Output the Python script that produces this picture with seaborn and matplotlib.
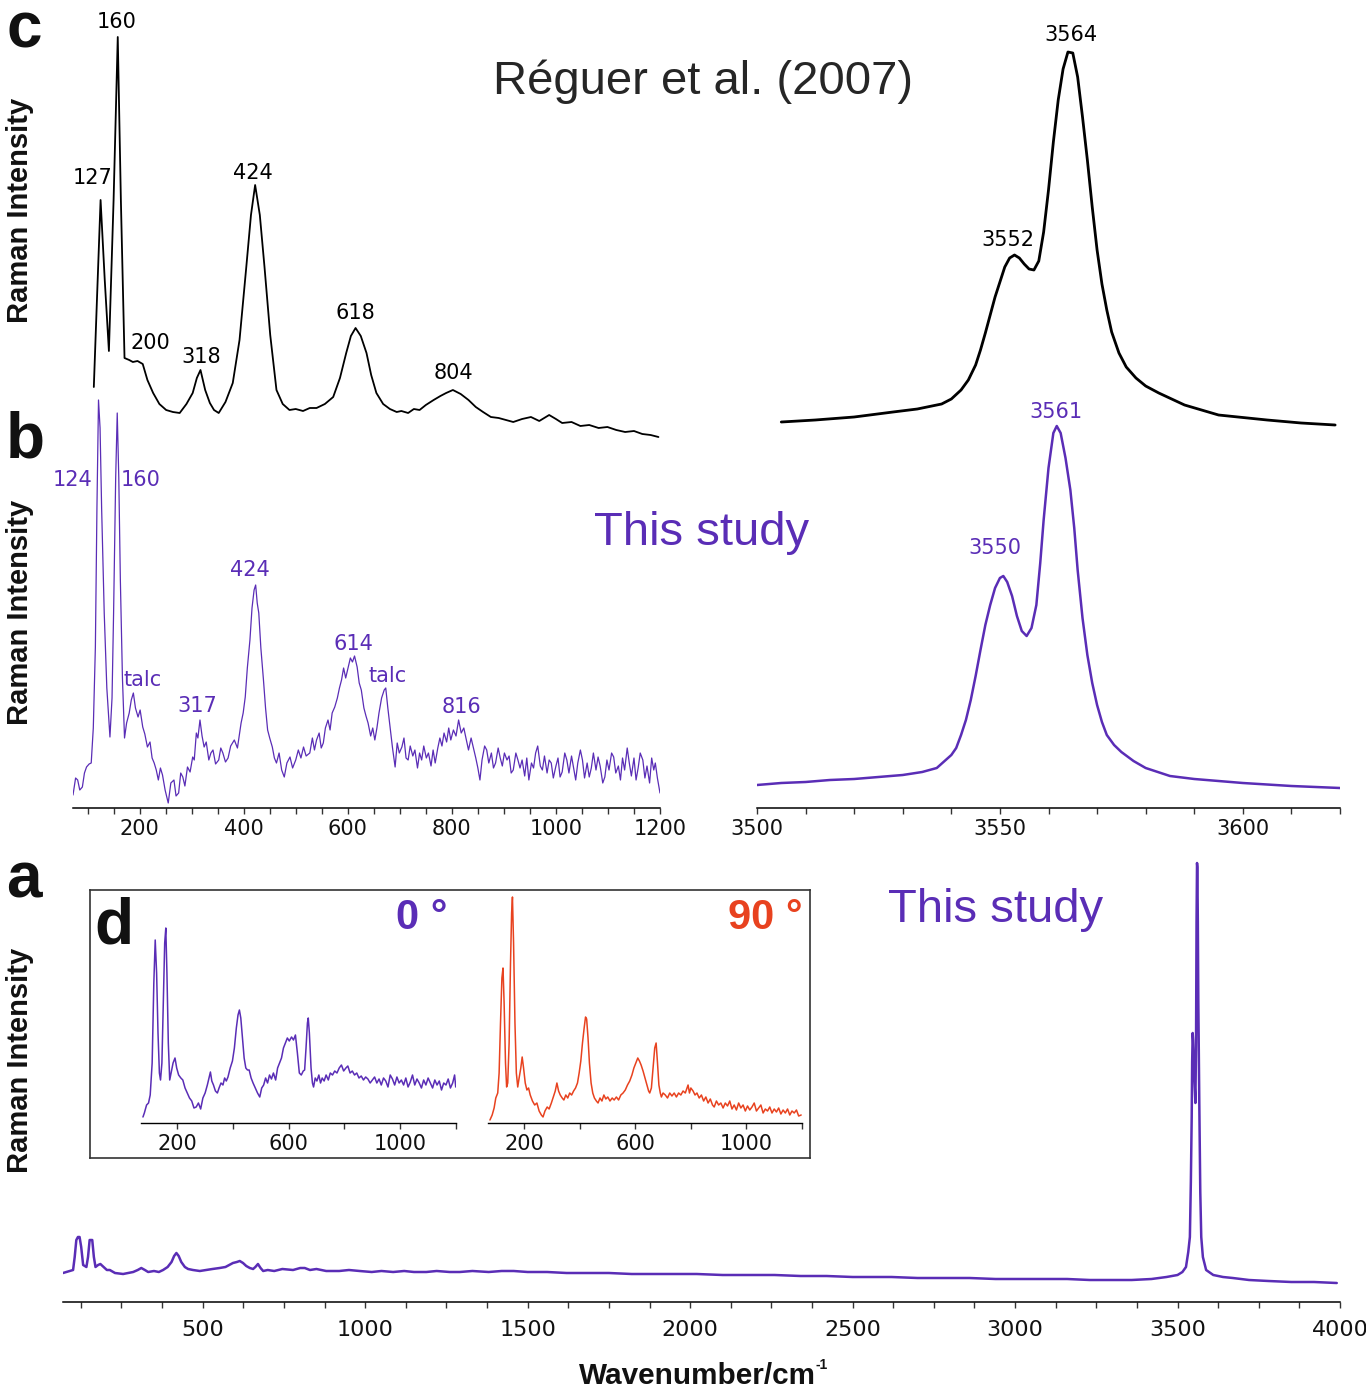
"""
Raman spectra of the OH / lattice region: Réguer et al. (2007) vs this study
"""
import numpy as np
import matplotlib
matplotlib.use("Agg")
import matplotlib.pyplot as plt
from matplotlib.ticker import MultipleLocator, FixedLocator
import seaborn as sns

sns.set_style("ticks")
plt.rcParams['font.family'] = ['DejaVu Sans']

PURPLE = '#5a2db6'
RED = '#e8421f'

# ---- panel c : Réguer et al. (2007), lattice region
c_low_wn = [112, 118, 125, 133, 141, 150, 158, 164, 171, 180, 187, 196, 206, 215, 226, 238, 251, 264, 277, 290,
            302, 310, 317, 326, 335, 343, 352, 365, 379, 392, 405, 414, 422, 431, 440, 451, 463, 475, 488, 500,
            514, 527, 540, 556, 572, 585, 597, 606, 615, 625, 636, 645, 655, 668, 681, 694, 703, 716, 727, 738,
            750, 765, 778, 789, 802, 817, 832, 846, 860, 875, 890, 904, 918, 935, 952, 968, 987, 1000, 1012, 1030,
            1047, 1064, 1082, 1099, 1116, 1133, 1150, 1166, 1182, 1197]
c_low_int = [50, 137, 237, 157, 86, 237, 400, 237, 79, 77, 75, 76, 73, 57, 44, 33, 27, 25, 24, 33,
             44, 59, 67, 47, 34, 27, 24, 35, 54, 97, 170, 222, 252, 222, 170, 102, 47, 33, 27, 28,
             26, 29, 29, 33, 40, 59, 84, 101, 109, 101, 84, 62, 44, 33, 28, 25, 26, 24, 28, 27,
             32, 37, 41, 44, 47, 43, 37, 30, 25, 20, 19, 17, 15, 18, 20, 16, 22, 18, 14, 15,
             11, 12, 9, 10, 7, 5, 6, 3, 2, 0]

# ---- panel c : OH stretching region
c_oh_wn = [3505, 3512, 3520, 3528, 3533, 3538, 3540, 3542, 3543.5, 3545, 3546, 3547, 3548, 3549, 3550,
           3551, 3552, 3553, 3554, 3555, 3556, 3557, 3558, 3559, 3560, 3561, 3562, 3563, 3564, 3565,
           3566, 3567, 3568, 3569, 3570, 3571, 3572, 3573, 3574.5, 3576, 3578, 3580, 3582.7, 3588, 3595,
           3605, 3612, 3619]
c_oh_int = [15, 17, 20, 25, 28, 33, 38, 47, 57, 72, 87, 104, 122, 140, 155,
            170, 179, 182, 179, 173, 168, 167, 176, 205, 247, 295, 337, 368, 385, 384,
            360, 320, 277, 230, 187, 153, 127, 105, 84, 70, 59, 51, 44, 32, 22,
            17, 14, 12]

# ---- panel b : this study, lattice region
b_low_wn = [72, 77, 81, 85, 90, 94, 98, 103, 107, 111, 115, 118, 121, 124, 127, 132, 137, 143, 147, 150,
            154, 157, 160, 163, 167, 171, 175, 180, 184, 188, 192, 197, 201, 206, 210, 215, 220, 224, 228, 232,
            236, 240, 244, 249, 255, 260, 266, 270, 275, 279, 283, 287, 292, 297, 302, 305, 309, 312, 316, 320,
            324, 328, 333, 337, 341, 346, 352, 356, 360, 365, 370, 375, 382, 388, 395, 399, 403, 407, 412, 416,
            420, 423, 426, 429, 433, 438, 442, 446, 450, 455, 459, 463, 468, 473, 478, 483, 489, 494, 500, 505,
            510, 515, 520, 527, 532, 536, 540, 545, 549, 553, 557, 562, 566, 570, 575, 580, 584, 588, 592, 596,
            601, 605, 609, 613, 618, 622, 626, 631, 635, 639, 644, 648, 652, 656, 660, 665, 670, 673, 677, 682,
            686, 691, 695, 699, 704, 708, 712, 716, 720, 725, 729, 734, 738, 742, 746, 751, 755, 760, 764, 768,
            773, 777, 781, 785, 790, 794, 798, 803, 808, 813, 818, 823, 828, 832, 837, 841, 846, 850, 854, 858,
            863, 867, 871, 876, 880, 884, 889, 893, 897, 901, 906, 910, 914, 918, 923, 927, 931, 935, 940, 944,
            948, 953, 957, 961, 965, 970, 974, 978, 983, 987, 991, 995, 1000, 1004, 1008, 1012, 1017, 1021, 1025, 1030,
            1034, 1038, 1042, 1047, 1051, 1055, 1060, 1064, 1068, 1072, 1077, 1081, 1085, 1090, 1094, 1098, 1102, 1107, 1111, 1115,
            1120, 1124, 1128, 1132, 1137, 1141, 1145, 1150, 1154, 1158, 1162, 1167, 1171, 1175, 1180, 1184, 1188, 1191, 1195, 1200]
b_low_int = [13, 30, 28, 18, 21, 35, 41, 44, 45, 80, 161, 300, 408, 380, 300, 195, 120, 71, 110, 195,
             330, 395, 330, 228, 130, 70, 85, 95, 108, 115, 100, 91, 98, 81, 74, 61, 66, 50, 45, 38,
             28, 40, 33, 18, 5, 25, 28, 12, 15, 35, 31, 22, 41, 36, 51, 48, 75, 70, 88, 72,
             61, 66, 48, 55, 58, 44, 48, 60, 55, 46, 50, 62, 68, 60, 85, 95, 111, 140, 168, 200,
             218, 223, 205, 195, 160, 128, 100, 78, 70, 61, 50, 45, 55, 38, 31, 45, 51, 40, 48, 58,
             50, 61, 52, 55, 70, 58, 68, 75, 60, 65, 80, 88, 78, 95, 101, 110, 120, 128, 140, 130,
             141, 150, 146, 152, 141, 125, 118, 100, 92, 85, 72, 80, 68, 80, 95, 110, 118, 120, 100, 78,
             60, 41, 65, 55, 61, 70, 50, 48, 62, 52, 58, 40, 55, 48, 62, 50, 55, 42, 58, 45,
             60, 70, 62, 75, 66, 80, 68, 78, 72, 88, 75, 80, 68, 58, 70, 61, 50, 40, 28, 48,
             62, 58, 45, 55, 40, 45, 60, 50, 42, 55, 48, 52, 35, 38, 55, 48, 40, 48, 32, 50,
             28, 45, 40, 55, 62, 42, 38, 52, 35, 48, 45, 30, 42, 50, 31, 36, 55, 48, 35, 52,
             40, 28, 45, 58, 48, 30, 45, 31, 40, 55, 38, 51, 42, 25, 31, 48, 38, 55, 51, 35,
             42, 28, 50, 38, 60, 45, 32, 50, 28, 40, 55, 48, 30, 42, 25, 50, 38, 45, 30, 15]

# ---- panel b : OH stretching region
b_oh_wn = [3500, 3505, 3510, 3515, 3520, 3525, 3530, 3534, 3537, 3540, 3541, 3542, 3543, 3544, 3545, 3546,
           3547, 3548, 3549, 3550, 3550.7, 3551.5, 3552.5, 3553.5, 3554.5, 3555.5, 3556.5, 3557.5, 3558.3, 3559,
           3560, 3561, 3561.7, 3562.5, 3563.5, 3564.5, 3565.3, 3566, 3567, 3568, 3569, 3570, 3571, 3572,
           3573.5, 3575, 3577.5, 3580, 3585, 3590, 3600, 3610, 3620]
b_oh_int = [23, 25, 26, 28, 29, 31, 33, 36, 40, 53, 60, 73, 88, 108, 132, 158,
            183, 203, 220, 230, 232, 226, 212, 192, 177, 172, 180, 203, 245, 288,
            340, 375, 382, 375, 350, 318, 280, 238, 190, 153, 125, 103, 86, 73,
            63, 56, 47, 40, 32, 29, 25, 22, 20]

# ---- panel a : full range, this study
a_wn = [70, 90, 101, 106, 111, 116, 121, 126, 132, 142, 147, 152, 156, 160, 165, 170, 178, 185, 195, 205,
        214, 230, 255, 270, 286, 300, 311, 322, 332, 350, 365, 378, 392, 404, 412, 419, 426, 434, 445, 455,
        470, 491, 510, 530, 552, 570, 593, 605, 614, 624, 634, 645, 655, 662, 670, 678, 686, 700, 720, 745,
        778, 800, 814, 830, 850, 880, 920, 950, 983, 1020, 1050, 1086, 1120, 1150, 1188, 1220, 1260, 1291, 1330, 1380,
        1420, 1457, 1500, 1560, 1620, 1680, 1750, 1820, 1900, 1960, 2020, 2100, 2180, 2260, 2340, 2420, 2500, 2555, 2620, 2700,
        2780, 2860, 2940, 3020, 3091, 3160, 3230, 3300, 3359, 3420, 3466, 3500, 3515, 3526, 3533, 3538, 3541, 3543.6, 3545, 3546.6,
        3548, 3551, 3555, 3557, 3558.5, 3560, 3561, 3562.5, 3564, 3567, 3570, 3573, 3578, 3588, 3610, 3640, 3670, 3720, 3780, 3850,
        3920, 3990]
a_int = [29, 31, 32, 45, 62, 65, 65, 55, 37, 35, 45, 62, 62, 62, 45, 35, 37, 38, 35, 32,
         32, 29, 28, 29, 30, 32, 34, 32, 30, 31, 30, 32, 35, 40, 46, 49, 46, 40, 35, 33,
         32, 31, 32, 33, 34, 35, 39, 40, 41, 39, 36, 34, 33, 35, 38, 34, 31, 32, 31, 33,
         32, 34, 34, 32, 33, 31, 31, 32, 31, 30, 31, 30, 31, 30, 30, 31, 30, 30, 31, 30,
         31, 31, 30, 30, 29, 29, 29, 28, 28, 28, 28, 27, 27, 27, 26, 26, 25, 25, 25, 24,
         24, 24, 23, 23, 23, 23, 22, 22, 22, 23, 25, 27, 30, 35, 50, 65, 120, 185, 240, 269,
         262, 230, 199, 260, 380, 439, 435, 380, 300, 199, 110, 65, 45, 32, 27, 25, 24, 22, 21, 20,
         20, 19]

# ---- panel d : polarised spectra (0 deg and 90 deg)
d0_wn = [77, 82, 90, 97, 103, 110, 116, 121, 126, 131, 136, 140, 145, 150, 155, 159, 163, 168, 173, 178,
         185, 192, 198, 205, 213, 220, 228, 236, 244, 252, 260, 268, 276, 284, 292, 300, 308, 314, 319, 324,
         330, 337, 344, 350, 357, 364, 370, 376, 382, 390, 398, 405, 412, 418, 423, 428, 434, 440, 446, 452,
         458, 465, 472, 480, 488, 496, 503, 510, 517, 524, 531, 538, 545, 553, 560, 567, 574, 581, 588, 595,
         602, 610, 617, 624, 631, 638, 645, 652, 657, 662, 667, 670, 674, 680, 685, 689, 695, 701, 708, 714,
         720, 727, 734, 742, 749, 757, 765, 773, 781, 789, 797, 805, 812, 820, 828, 836, 844, 852, 860, 868,
         876, 884, 892, 900, 908, 916, 924, 932, 940, 948, 956, 964, 972, 980, 988, 996, 1004, 1012, 1020, 1028,
         1036, 1044, 1052, 1060, 1068, 1076, 1084, 1092, 1100, 1108, 1116, 1124, 1132, 1140, 1148, 1156, 1164, 1172, 1180, 1188,
         1195, 1199]
d0_int = [6, 10, 18, 20, 28, 60, 140, 183, 150, 90, 50, 43, 60, 120, 180, 195, 150, 80, 43, 50,
          60, 65, 55, 48, 45, 43, 35, 30, 25, 22, 15, 16, 20, 14, 25, 30, 38, 45, 51, 42,
          38, 32, 30, 35, 40, 38, 45, 42, 46, 55, 62, 75, 95, 108, 113, 105, 85, 65, 55, 53,
          53, 45, 40, 35, 30, 26, 35, 38, 45, 40, 48, 44, 50, 43, 55, 60, 65, 75, 80, 85,
          82, 86, 83, 88, 70, 50, 48, 52, 53, 75, 100, 105, 90, 55, 40, 36, 45, 42, 48, 40,
          45, 42, 48, 43, 50, 48, 52, 50, 55, 58, 52, 55, 57, 50, 52, 48, 50, 45, 47, 43,
          46, 44, 40, 43, 46, 40, 44, 38, 45, 42, 36, 48, 44, 38, 46, 40, 43, 38, 45, 36,
          41, 48, 38, 44, 40, 35, 43, 38, 45, 40, 35, 43, 38, 42, 33, 40, 38, 44, 35, 40,
          48, 36]

d90_wn = [77, 85, 92, 98, 105, 110, 115, 120, 124, 128, 133, 137, 141, 146, 151, 155, 158, 162, 167, 172,
          177, 182, 188, 193, 198, 204, 210, 216, 222, 230, 238, 246, 254, 262, 268, 275, 283, 290, 298, 305,
          312, 318, 324, 330, 337, 343, 350, 357, 364, 371, 378, 385, 392, 398, 404, 410, 416, 421, 425, 430,
          435, 441, 447, 453, 460, 466, 473, 480, 487, 494, 501, 509, 517, 524, 532, 540, 548, 556, 564, 572,
          580, 588, 595, 602, 609, 615, 621, 628, 635, 642, 648, 652, 658, 664, 670, 675, 680, 685, 690, 694,
          700, 708, 716, 724, 732, 740, 748, 756, 764, 772, 780, 786, 790, 795, 800, 808, 815, 822, 830, 838,
          846, 854, 862, 870, 878, 884, 892, 900, 908, 916, 924, 932, 940, 948, 956, 964, 972, 980, 988, 996,
          1004, 1012, 1020, 1028, 1036, 1044, 1052, 1060, 1068, 1076, 1084, 1092, 1100, 1108, 1116, 1124, 1132, 1140, 1148, 1156,
          1164, 1172, 1180, 1188, 1197]
d90_int = [3, 8, 15, 25, 30, 50, 100, 145, 155, 120, 60, 36, 40, 80, 160, 210, 226, 180, 100, 50,
           36, 45, 55, 66, 55, 40, 33, 35, 28, 22, 18, 20, 12, 8, 6, 12, 16, 14, 20, 26,
           32, 40, 32, 28, 25, 23, 28, 25, 30, 28, 32, 35, 40, 50, 62, 80, 95, 106, 104, 85,
           60, 40, 30, 25, 22, 20, 25, 22, 28, 24, 26, 22, 25, 23, 26, 23, 28, 30, 33, 38,
           42, 48, 55, 60, 65, 62, 58, 52, 45, 38, 32, 30, 35, 55, 75, 80, 60, 38, 30, 26,
           30, 28, 25, 30, 27, 30, 26, 30, 28, 32, 30, 35, 38, 30, 35, 32, 28, 30, 25, 28,
           22, 26, 20, 24, 18, 16, 22, 18, 20, 15, 20, 17, 22, 14, 18, 13, 20, 15, 18, 12,
           17, 13, 16, 20, 12, 15, 18, 10, 14, 12, 16, 10, 14, 11, 15, 9, 13, 10, 14, 8,
           12, 10, 13, 7, 8]

# vertical offset of the Réguer trace above the b trace (stacked plot)
c_offset = 371
b_offset = 0

# peak labels (text, x px, y px)
labels_c = [('160', 117, 22), ('127', 93, 178), ('200', 150, 343), ('318', 201, 357),
            ('424', 253, 173), ('618', 355, 313), ('804', 453, 373),
            ('3564', 1071, 35), ('3552', 1008, 240)]
labels_b = [('124', 73, 480), ('160', 141, 480), ('talc', 143, 680), ('317', 197, 706),
            ('424', 250, 570), ('614', 353, 644), ('talc', 388, 676), ('816', 461, 707),
            ('3561', 1056, 412), ('3550', 995, 548)]

W, H = 1366, 1388
fig = plt.figure(figsize=(W / 100, H / 100), dpi=100)


def px_axes(x0, x1, y_top, y_bot, **kw):
    return fig.add_axes([x0 / W, 1 - y_bot / H, (x1 - x0) / W, (y_bot - y_top) / H], **kw)


def ftext(x, y, s, **kw):
    kw.setdefault('ha', 'center')
    kw.setdefault('va', 'center')
    return fig.text(x / W, 1 - y / H, s, **kw)


def style_axis(ax, xlim, ylim, major, minor, size, pad, lw=1.1):
    ax.set_facecolor('none')
    ax.set_xlim(*xlim)
    ax.set_ylim(*ylim)
    for s in ['left', 'right', 'top']:
        ax.spines[s].set_visible(False)
    ax.spines['bottom'].set_color('black')
    ax.spines['bottom'].set_linewidth(lw)
    ax.set_yticks([])
    ax.xaxis.set_major_locator(major)
    ax.xaxis.set_minor_locator(minor)
    ax.tick_params(axis='x', which='both', bottom=True, direction='out', length=4, width=1,
                   color='#333333', labelcolor='#111111', labelsize=size, pad=pad)
    ax.set_xlabel('')
    ax.set_ylabel('')


# ---------- top left: lattice region, c stacked over b
ax_tl = px_axes(73, 660, 13, 808)
sns.lineplot(x=c_low_wn, y=np.array(c_low_int) + c_offset, ax=ax_tl, color='black', linewidth=1.3,
             estimator=None, sort=False)
sns.lineplot(x=b_low_wn, y=np.array(b_low_int) + b_offset, ax=ax_tl, color=PURPLE, linewidth=0.9,
             estimator=None, sort=False)
style_axis(ax_tl, (72, 1200), (0, 795), MultipleLocator(200), MultipleLocator(50), 15, 4)

# ---------- top right: OH region
ax_tr = px_axes(757, 1340, 13, 808)
sns.lineplot(x=c_oh_wn, y=np.array(c_oh_int) + c_offset, ax=ax_tr, color='black', linewidth=2.0,
             estimator=None, sort=False)
sns.lineplot(x=b_oh_wn, y=np.array(b_oh_int) + b_offset, ax=ax_tr, color=PURPLE, linewidth=1.8,
             estimator=None, sort=False)
style_axis(ax_tr, (3500, 3620), (0, 795), MultipleLocator(50), MultipleLocator(10), 15, 4)

# ---------- bottom: full range
ax_a = px_axes(63, 1340, 855, 1302)
sns.lineplot(x=a_wn, y=a_int, ax=ax_a, color=PURPLE, linewidth=1.8, estimator=None, sort=False)
style_axis(ax_a, (70, 4000), (0, 447), MultipleLocator(500), MultipleLocator(125), 16, 9)

# ---------- inset d
box = fig.add_axes([90 / W, 1 - 1158 / H, 720 / W, 268 / H], zorder=3)
box.set_xticks([])
box.set_yticks([])
box.set_facecolor('white')
for s in box.spines.values():
    s.set_color('#333333')
    s.set_linewidth(1.2)

ax_d0 = px_axes(141, 456, 890, 1123, zorder=4)
sns.lineplot(x=d0_wn, y=d0_int, ax=ax_d0, color=PURPLE, linewidth=1.1, estimator=None, sort=False)
style_axis(ax_d0, (70, 1200), (0, 233), FixedLocator([200, 600, 1000]), MultipleLocator(200), 15, 4, lw=1.0)

ax_d90 = px_axes(488, 802, 890, 1123, zorder=4)
sns.lineplot(x=d90_wn, y=d90_int, ax=ax_d90, color=RED, linewidth=1.1, estimator=None, sort=False)
style_axis(ax_d90, (70, 1200), (0, 233), FixedLocator([200, 600, 1000]), MultipleLocator(200), 15, 4, lw=1.0)

# ---------- peak labels
for s, x, y in labels_c:
    ftext(x, y, s, fontsize=15, color='black')
for s, x, y in labels_b:
    ftext(x, y, s, fontsize=15, color=PURPLE)

# ---------- titles, panel letters, axis labels
arial = ['Liberation Sans', 'DejaVu Sans']
ftext(703, 82, 'Réguer et al. (2007)', fontsize=34, color='#262626', family=arial)
ftext(702, 533, 'This study', fontsize=34, color=PURPLE, family=arial)
ftext(996, 910, 'This study', fontsize=34, color=PURPLE, family=arial)

for s, x, y in [('c', 24, 30), ('b', 25, 440), ('a', 24, 880)]:
    ftext(x, y, s, fontsize=46, fontweight='bold', color='#111111', family=arial)
ftext(114, 927, 'd', fontsize=46, fontweight='bold', color='#111111', family=arial, zorder=5)
ftext(447, 918, '0 °', fontsize=30, fontweight='bold', color=PURPLE, family=arial, ha='right', zorder=5)
ftext(802, 918, '90 °', fontsize=30, fontweight='bold', color=RED, family=arial, ha='right', zorder=5)

for yc in [210, 612, 1060]:
    ftext(20, yc, 'Raman Intensity', fontsize=21, fontweight='bold', rotation=90,
          color='#111111', family=arial)

ftext(697, 1376, 'Wavenumber/cm', fontsize=21.4, fontweight='bold', color='#111111', family=arial)
ftext(822, 1365, '-1', fontsize=10, fontweight='bold', color='#111111', family=arial)

plt.savefig('out.png', dpi=100)
print("Saved: out.png")
